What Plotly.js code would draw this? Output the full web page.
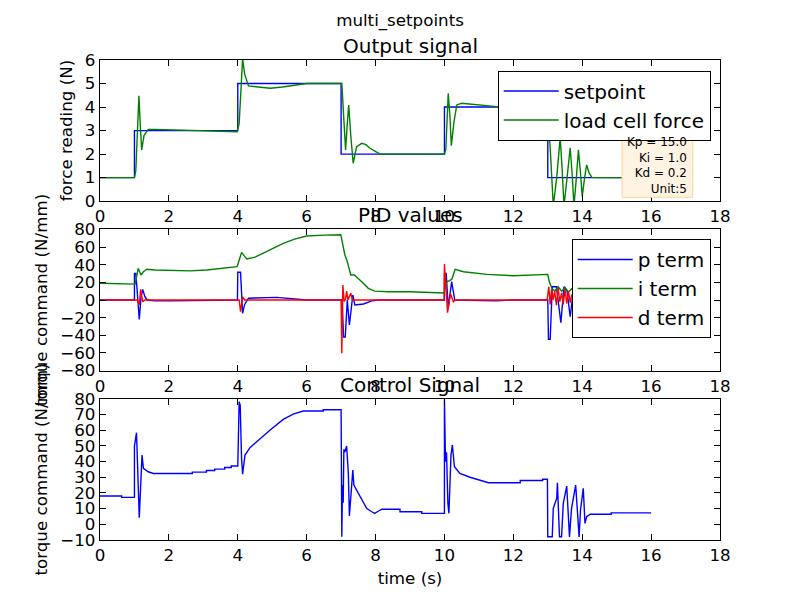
<!DOCTYPE html>
<html>
<head>
<meta charset="utf-8">
<script src="https://cdn.plot.ly/plotly-3.0.1.min.js"></script>
<style>
  body { margin: 0; background: #fff; }
  #plot { width: 800px; height: 600px; }
</style>
</head>
<body>
<div id="plot"></div>
<script>
// setpoint steps (N)
var setT = [0, 1, 1, 4, 4, 7, 7, 10, 10, 13, 13, 16];
var setV = [1, 1, 3, 3, 5, 5, 2, 2, 4, 4, 1, 1];

// load cell force (N)
var forceT = [0, 1.0, 1.04, 1.08, 1.13, 1.17, 1.21, 1.28, 1.40, 1.6, 2.5, 3.5, 3.98, 4.04, 4.09, 4.14, 4.2, 4.31, 4.6, 4.94, 5.3, 5.52, 6.0, 7.02, 7.07, 7.13, 7.18, 7.22, 7.28, 7.35, 7.45, 7.60, 7.72, 7.84, 7.98, 8.13, 10.0, 10.04, 10.11, 10.16, 10.20, 10.28, 10.36, 10.50, 11.52, 12.5, 13.0, 13.08, 13.16, 13.26, 13.36, 13.42, 13.47, 13.56, 13.65, 13.71, 13.76, 13.83, 13.89, 13.95, 14.0, 14.07, 14.13, 14.2, 14.28, 14.5, 16.0];
var forceV = [1.0, 1.0, 1.3, 3.0, 4.48, 3.2, 2.18, 2.8, 3.05, 3.05, 3.02, 2.98, 2.95, 3.3, 5.0, 6.05, 5.4, 4.9, 4.85, 4.80, 4.85, 4.90, 5.0, 5.0, 3.8, 2.18, 3.3, 4.09, 2.8, 1.61, 2.32, 2.46, 2.4, 2.25, 2.13, 2.0, 2.0, 2.2, 4.58, 3.6, 2.36, 3.4, 4.09, 4.16, 4.02, 4.0, 4.0, 2.0, -0.2, 1.0, 2.71, 1.3, -0.2, 1.0, 2.27, 1.1, -0.2, 1.0, 2.18, 1.2, 0.2, 1.0, 1.54, 1.2, 1.01, 1.0, 1.0];

// PID terms
var pT = [0, 1.0, 1.0, 1.04, 1.09, 1.14, 1.19, 1.24, 1.30, 1.37, 1.6, 2.0, 3.99, 4.0, 4.08, 4.14, 4.2, 4.31, 5.13, 6.0, 7.0, 7.03, 7.07, 7.12, 7.18, 7.24, 7.34, 7.40, 7.65, 7.89, 8.1, 10.0, 10.0, 10.05, 10.11, 10.21, 10.3, 11.5, 12.0, 13.0, 13.02, 13.07, 13.13, 13.25, 13.38, 13.47, 13.56, 13.65, 13.74, 13.82, 13.9, 13.98, 14.06, 14.15, 14.25, 14.4, 16.0];
var pV = [0, 0, 30.2, 30.2, 5, -21.9, 3, 12, 4, 0, -1, -1, 0, 31.4, 31.4, -15, -5, 2, 3, 0, 0, 0, -42, -42, 0, -28.3, 5.7, -5.7, -4.5, -1, 0, 0, 30, 30, -8.3, 20.8, 0, -1, 0, 0, -44.6, -44.6, 15, 15, -25.7, 15, 10, -19, 10, 8, -12, 8, 5, -3, 1, 0, 0];

var iT = [0, 1.0, 1.02, 1.11, 1.19, 1.26, 1.36, 1.6, 2.13, 2.61, 3.1, 3.5, 3.98, 4.04, 4.11, 4.19, 4.26, 4.5, 4.74, 5.05, 5.32, 5.65, 6.0, 6.5, 6.99, 7.11, 7.18, 7.28, 7.38, 7.6, 7.79, 7.98, 8.36, 9.0, 9.5, 9.99, 10.07, 10.16, 10.22, 10.31, 10.55, 11.23, 12.0, 13.0, 13.05, 13.11, 13.2, 13.3, 13.4, 13.5, 13.6, 13.7, 13.8, 13.9, 14.0, 14.2, 14.5, 16.0];
var iV = [18.9, 17.8, 18, 35.9, 28.3, 32, 34.8, 34, 33.2, 33, 34, 35.5, 37.7, 45, 54, 50, 46.5, 48.5, 52.9, 58.5, 64.2, 69, 72.5, 73.5, 74, 51, 43.4, 28.3, 28.3, 20.8, 13.2, 10.1, 9.4, 9.4, 8.8, 8.0, 20.8, 22, 24, 34.8, 32, 29, 27.5, 29, 20, 14, 10, 15, 10, 14, 9, 13, 9, 11, 8, 7.5, 7.3, 7.3];

var dT = [0, 1.08, 1.14, 1.18, 1.24, 1.3, 4.04, 4.08, 4.14, 4.2, 7.0, 7.02, 7.05, 7.09, 7.13, 7.16, 7.2, 7.24, 7.28, 7.33, 7.4, 9.99, 10.0, 10.09, 10.18, 10.26, 10.32, 12.98, 13.03, 13.07, 13.11, 13.15, 13.2, 13.25, 13.3, 13.35, 13.4, 13.45, 13.5, 13.55, 13.6, 13.65, 13.7, 13.75, 13.8, 13.9, 14.0, 14.1, 14.2, 16.0];
var dV = [0, 0, -5.7, 12, -2, 0, 0, -13.3, 3.5, 0, 0, -60.4, 17, -1.7, 1, 10, 0, 3, 7.6, 0, 0, 0, 40.8, -14.4, 6.8, -2, 0, 0, 15, -5, 12, 0, 10, -6, 14, -2, 8, -5, 12, -4, 10, -3, 6, -2, 4, -1, 2, 0, 0, 0];

// control signal (torque command)
var ctrlT = [0, 0.63, 0.63, 1.0, 1.0, 1.06, 1.14, 1.22, 1.26, 1.4, 1.55, 2.68, 2.68, 3.09, 3.09, 3.33, 3.33, 3.62, 3.62, 3.81, 3.81, 4.0, 4.04, 4.07, 4.11, 4.14, 4.21, 4.36, 4.94, 5.32, 5.61, 5.9, 6.48, 6.48, 7.0, 7.02, 7.04, 7.06, 7.08, 7.11, 7.16, 7.21, 7.24, 7.34, 7.37, 7.55, 7.74, 7.89, 7.98, 8.05, 8.18, 8.71, 8.71, 9.34, 9.34, 10.0, 10.0, 10.03, 10.06, 10.10, 10.13, 10.19, 10.23, 10.29, 10.45, 10.74, 11.03, 11.28, 12.2, 12.2, 12.85, 12.85, 12.99, 13.0, 13.13, 13.16, 13.26, 13.28, 13.34, 13.4, 13.45, 13.55, 13.63, 13.69, 13.81, 13.91, 13.95, 14.03, 14.08, 14.13, 14.23, 14.84, 14.84, 16.0];
var ctrlV = [18.05, 18.05, 17.2, 17.2, 49.9, 58.4, 4.2, 44.2, 35.7, 33.5, 32.4, 32.4, 33.3, 33.3, 34.3, 34.3, 35.2, 35.2, 36.2, 36.2, 37.2, 37.2, 78.2, 76, 42, 32, 44.2, 49, 60.1, 66.9, 70.3, 72.2, 72.2, 73, 73, -7.9, 25, 13.8, 47.8, 46, 49.9, 32.5, 5.3, 34.6, 25, 17.6, 10.2, 8.0, 7.0, 8.0, 9.6, 9.6, 8.0, 8.0, 7.0, 7.0, 79.5, 39.9, 46, 13.4, 7, 44.2, 50.6, 36.7, 32.5, 30, 28.2, 26.5, 26.5, 27.9, 27.9, 28.7, 28.7, -7.9, -7.9, 10.2, 16.6, 26.5, -7.9, -7.9, 13.4, 24.4, -8, 10.2, 25, -8, 9, 23, 0.6, 4.9, 6.4, 6.4, 7.3, 7.3];

var gainText = 'Kp = 15.0<br>Ki = 1.0<br>Kd = 0.2<br>Unit:5';

var BLUE = '#0000ff', GREEN = '#008000', RED = '#ff0000';
var FONT = 'DejaVu Sans, Liberation Sans, sans-serif';

function line(name, x, y, color, xa, ya, leg) {
  return {
    name: name, x: x, y: y,
    type: 'scatter', mode: 'lines',
    line: { color: color, width: 1.4 },
    xaxis: xa, yaxis: ya,
    legend: leg || 'legend',
    showlegend: !!leg,
    hoverinfo: 'skip',
  };
}

var data = [
  line('setpoint', setT, setV, BLUE, 'x', 'y', 'legend'),
  line('load cell force', forceT, forceV, GREEN, 'x', 'y', 'legend'),
  line('p term', pT, pV, BLUE, 'x2', 'y2', 'legend2'),
  line('i term', iT, iV, GREEN, 'x2', 'y2', 'legend2'),
  line('d term', dT, dV, RED, 'x2', 'y2', 'legend2'),
  line('control', ctrlT, ctrlV, BLUE, 'x3', 'y3'),
];

function xAxis(anchor) {
  return {
    anchor: anchor, domain: [0, 1],
    range: [0, 18], tick0: 0, dtick: 2,
    ticks: 'inside', ticklen: 6, tickcolor: '#000', tickwidth: 1,
    showline: true, linecolor: '#000', linewidth: 1.2, mirror: 'ticks',
    showgrid: false, zeroline: false,
    tickfont: { size: 16.7, color: '#000' },
  };
}

function yAxis(anchor, domain, range, dtick, title) {
  return {
    anchor: anchor, domain: domain,
    range: range, dtick: dtick,
    ticks: 'inside', ticklen: 6, tickcolor: '#000', tickwidth: 1,
    showline: true, linecolor: '#000', linewidth: 1.2, mirror: 'ticks',
    showgrid: false, zeroline: false,
    tickfont: { size: 16.7, color: '#000' },
    title: { text: title, font: { size: 16.7, color: '#000' }, standoff: 8 },
  };
}

var xa3 = xAxis('y3');
xa3.title = { text: 'time (s)', font: { size: 16.7, color: '#000' }, standoff: 8 };

function subTitle(text, yref) {
  return {
    text: text, xref: 'x domain', yref: yref, x: 0.5, y: 1,
    xanchor: 'center', yanchor: 'bottom', yshift: 0,
    showarrow: false, font: { size: 20, color: '#000' },
  };
}

function legendBox(y) {
  return {
    x: 0.985, y: y, xanchor: 'right', yanchor: 'top',
    bgcolor: '#fff', bordercolor: '#000', borderwidth: 1,
    itemwidth: 55, tracegroupgap: 0,
    font: { size: 20, color: '#000' },
  };
}

var layout = {
  width: 800, height: 600,
  margin: { l: 100, r: 80, t: 60, b: 60 },
  paper_bgcolor: '#fff', plot_bgcolor: '#fff',
  font: { family: FONT, color: '#000' },
  title: {
    text: 'multi_setpoints', font: { size: 16.7, color: '#000' },
    xref: 'container', x: 0.5, xanchor: 'center',
    yref: 'container', y: 1 - 20 / 600, yanchor: 'middle',
  },
  xaxis: xAxis('y'),
  yaxis: yAxis('x', [0.7059, 1], [0, 6], 1, 'force reading (N)'),
  xaxis2: xAxis('y2'),
  yaxis2: yAxis('x2', [0.3529, 0.6471], [-80, 80], 20, 'torque command (N/mm)'),
  xaxis3: xa3,
  yaxis3: yAxis('x3', [0, 0.2941], [-10, 80], 10, 'torque command (N/mm)'),
  legend: legendBox(0.978),
  legend2: legendBox(0.627),
  shapes: [{
    type: 'rect', xref: 'paper', yref: 'paper', layer: 'above',
    x0: 0.842, x1: 0.956, y0: 0.714, y1: 0.86,
    fillcolor: '#fff4e4', line: { color: '#fdd494', width: 1 },
  }],
  annotations: [
    subTitle('Output signal', 'y domain'),
    subTitle('PID values', 'y2 domain'),
    subTitle('Control Signal', 'y3 domain'),
    {
      text: gainText, xref: 'paper', yref: 'paper',
      x: 0.950, y: 0.712, xanchor: 'right', yanchor: 'bottom', align: 'right',
      showarrow: false, font: { size: 12, color: '#000' },
    },
  ],
};

Plotly.newPlot('plot', data, layout, { displayModeBar: false, staticPlot: true });
</script>
</body>
</html>
